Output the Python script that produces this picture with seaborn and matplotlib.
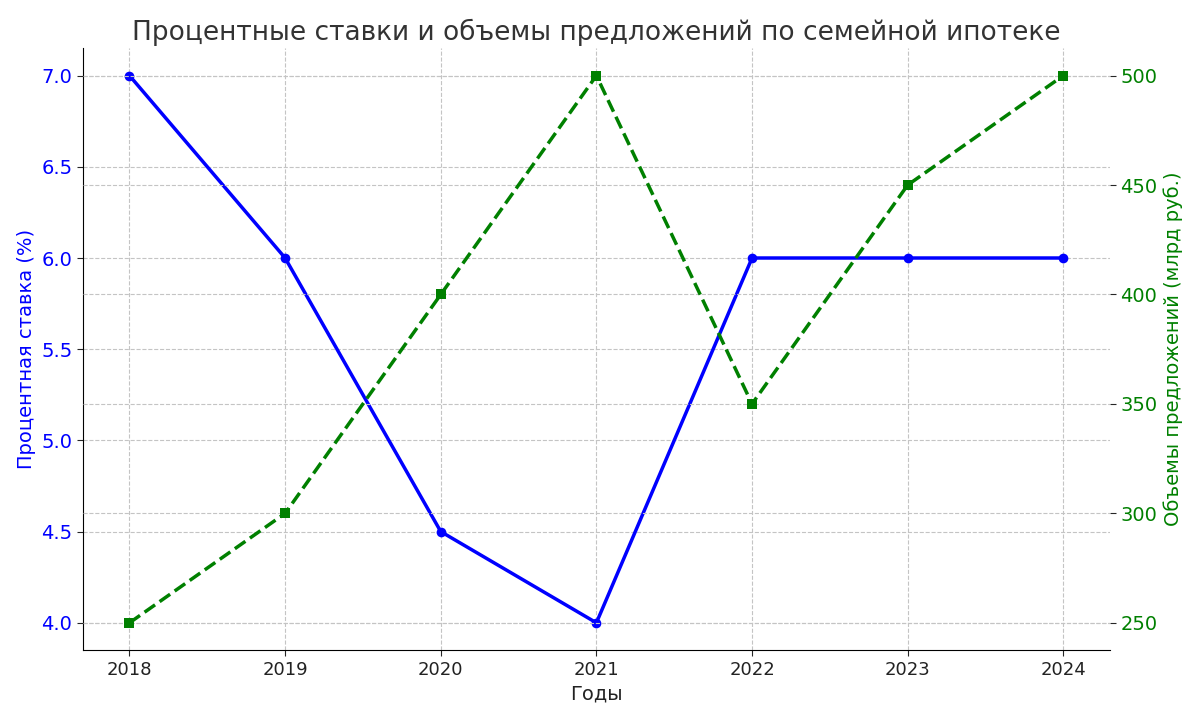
import pandas as pd
import seaborn as sns
import matplotlib.pyplot as plt

years = [2018, 2019, 2020, 2021, 2022, 2023, 2024]
rates = [7.0, 6.0, 4.5, 4.0, 6.0, 6.0, 6.0]
volumes = [250, 300, 400, 500, 350, 450, 500]

data = pd.DataFrame({'year': years, 'rate': rates, 'volume': volumes})

sns.set_style('white')
plt.rcParams['font.family'] = ['DejaVu Sans']

fig, ax1 = plt.subplots(figsize=(12, 7.2), dpi=100)
fig.subplots_adjust(left=0.069, right=0.925, top=0.933, bottom=0.097)

# left axis: rates
sns.lineplot(data=data, x='year', y='rate', ax=ax1, color='blue', marker='o',
             markersize=7, markeredgewidth=0, linewidth=2.5)
ax1.set_xlabel('Годы', fontsize=14, color='#222222')
ax1.set_ylabel('Процентная ставка (%)', fontsize=14, color='blue')
ax1.tick_params(axis='y', labelcolor='blue', labelsize=14, left=True, length=4)
ax1.tick_params(axis='x', labelsize=13, bottom=True, length=4, labelcolor='#222222')
ax1.set_xticks(years)
ax1.grid(True, linestyle='--', color='#c4c4c4', linewidth=0.8)

# right axis: volumes
ax2 = ax1.twinx()
sns.lineplot(data=data, x='year', y='volume', ax=ax2, color='green', marker='s',
             markersize=7, markeredgewidth=0, linewidth=2.5, linestyle='--')
ax2.set_ylabel('Объемы предложений (млрд руб.)', fontsize=14, color='green')
ax2.tick_params(axis='y', labelcolor='green', labelsize=14, right=True, length=4)
ax2.set_yticks([250, 300, 350, 400, 450, 500])
ax2.grid(True, linestyle='--', color='#c4c4c4', linewidth=0.8)

for ax in (ax1, ax2):
    ax.spines['top'].set_visible(False)
    ax.spines['right'].set_visible(False)
    ax.spines['left'].set_color('black')
    ax.spines['bottom'].set_color('black')
ax2.spines['left'].set_visible(False)
ax2.spines['bottom'].set_visible(False)

ax1.set_title('Процентные ставки и объемы предложений по семейной ипотеке',
              fontsize=19, color='#333333')

plt.savefig('out.png')
